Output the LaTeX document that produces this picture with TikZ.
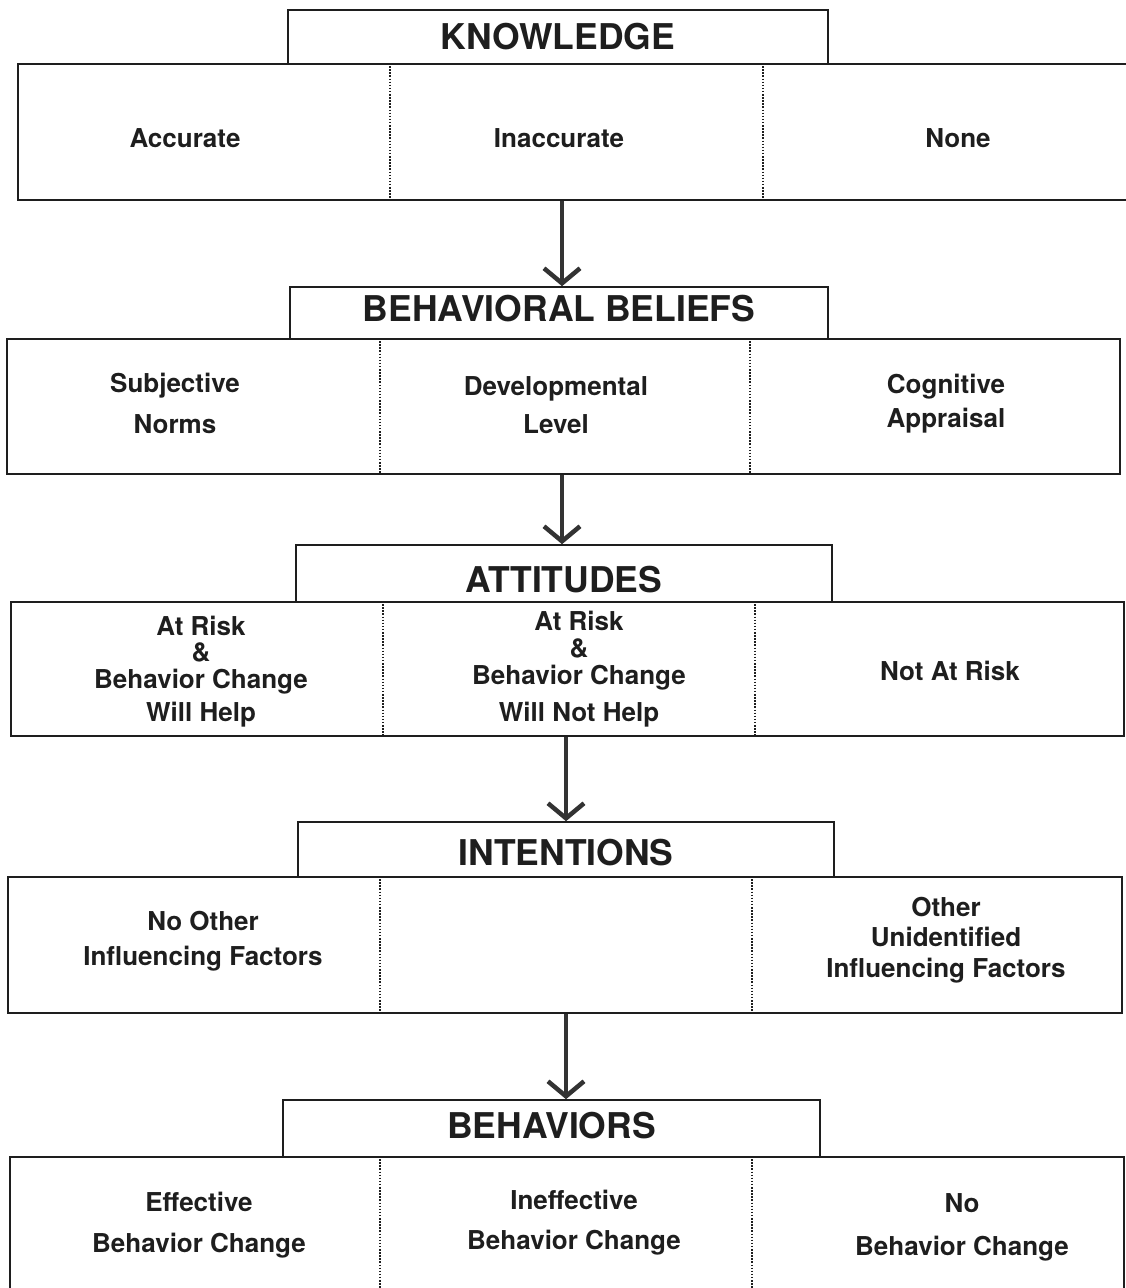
\documentclass[tikz,border=0pt]{standalone}
\usepackage{fontspec}
\setmainfont{TeX Gyre Heros}
\usetikzlibrary{arrows.meta}
\definecolor{ink}{HTML}{1E1E1E}
\definecolor{arrowink}{HTML}{333333}
\begin{document}
\begin{tikzpicture}[x=1pt,y=-1pt,
  hdr/.style={draw=ink, line width=1.6pt, inner sep=0pt, text=ink,
    font=\bfseries\fontsize{35.5}{40}\selectfont, text height=25pt, text depth=0pt},
  mbox/.style={draw=ink, line width=2pt, inner sep=0pt},
  lbl/.style={font=\bfseries\fontsize{26}{30}\selectfont, text=ink, align=center, inner sep=0pt},
  divider/.style={draw=ink, line width=1.7pt, dash pattern=on 1.5pt off 1.6pt},
  arr/.style={draw=arrowink, line width=4.5pt, -{Straight Barb[length=15pt,width=36pt]}}
]
\useasboundingbox (0,0) rectangle (1125,1288);

% ---------- KNOWLEDGE ----------
\node[mbox, minimum width=1112pt, minimum height=136pt] (kb) at (574,132) {};
\node[hdr, fill=white, minimum width=540pt, minimum height=54pt] (kh) at (558,37) {KNOWLEDGE};
\draw[divider] (kb.north -| 390,0) -- (kb.south -| 390,0);
\draw[divider] (kb.north -| 763,0) -- (kb.south -| 763,0);
\node[lbl] (k1) at (185,138) {Accurate};
\node[lbl] (k2) at (559,138) {Inaccurate};
\node[lbl] (k3) at (958,138) {None};

% ---------- BEHAVIORAL BELIEFS ----------
\node[mbox, minimum width=1113pt, minimum height=135pt] (bb) at (563.5,406.5) {};
\node[hdr, fill=white, minimum width=538pt, minimum height=52pt, text depth=8pt] (bh) at (559,313) {BEHAVIORAL BELIEFS};
\draw[divider] (bb.north -| 380,0) -- (bb.south -| 380,0);
\draw[divider] (bb.north -| 750,0) -- (bb.south -| 750,0);
\node[lbl] (b1) at (175,403.5) {Subjective\\[11pt]Norms};
\node[lbl] (b2) at (556,405) {Developmental\\[8pt]Level};
\node[lbl] (b3) at (946,403.5) {Cognitive\\[4pt]Appraisal};

% ---------- ATTITUDES ----------
\node[mbox, minimum width=1113pt, minimum height=134pt] (ab) at (567.5,669) {};
\node[hdr, fill=white, minimum width=536pt, minimum height=57pt, text height=38pt] (ah) at (564,573.5) {ATTITUDES};
\draw[divider] (ab.north -| 383,0) -- (ab.south -| 383,0);
\draw[divider] (ab.north -| 755,0) -- (ab.south -| 755,0);
\node[lbl] (a1) at (201,671.5) {At Risk\\[-4pt]\&\\[-3pt]Behavior Change\\[3pt]Will Help};
\node[lbl] (a2) at (579,669) {At Risk\\[-3pt]\&\\[-3pt]Behavior Change\\[7pt]Will Not Help};
\node[lbl] (a3) at (950,671) {Not At Risk};

% ---------- INTENTIONS ----------
\node[mbox, minimum width=1114pt, minimum height=136pt] (ib) at (565,945) {};
\node[hdr, fill=white, minimum width=536pt, minimum height=55pt, text height=32pt] (ih) at (566,849.5) {INTENTIONS};
\draw[divider] (ib.north -| 380,0) -- (ib.south -| 380,0);
\draw[divider] (ib.north -| 752,0) -- (ib.south -| 752,0);
\node[lbl] (i1) at (203,941) {No Other\\[5pt]Influencing Factors};
\node[lbl] (i3) at (946,940) {Other\\[0pt]Unidentified\\[1pt]Influencing Factors};

% ---------- BEHAVIORS ----------
\node[mbox, minimum width=1114pt, minimum height=153pt] (eb) at (567,1233.5) {};
\node[hdr, fill=white, minimum width=537pt, minimum height=57pt, text depth=5pt] (eh) at (551.5,1128.5) {BEHAVIORS};
\draw[divider] (eb.north -| 380,0) -- (eb.south -| 380,0);
\draw[divider] (eb.north -| 752,0) -- (eb.south -| 752,0);
\node[lbl] (e1) at (199,1225) {Effective\\[11pt]Behavior Change};
\node[lbl] (e2) at (574,1222.5) {Ineffective\\[10pt]Behavior Change};
\node[lbl] (e3) at (962,1227) {No\\[13pt]Behavior Change};

% ---------- arrows ----------
\draw[arr] (kb.south -| 562,0) -- (bh.north -| 562,0);
\draw[arr] (bb.south -| 562,0) -- (ah.north -| 562,0);
\draw[arr] (ab.south -| 566,0) -- (ih.north -| 566,0);
\draw[arr] (ib.south -| 566,0) -- (eh.north -| 566,0);
\end{tikzpicture}
\end{document}
